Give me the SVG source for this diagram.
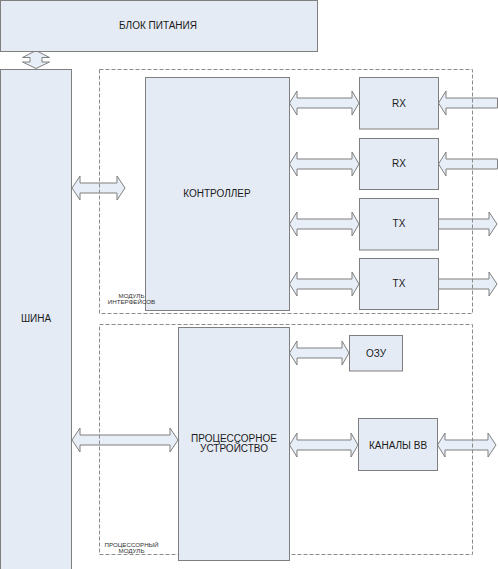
<svg xmlns="http://www.w3.org/2000/svg" width="498" height="569" viewBox="0 0 498 569">
<style>
.box{fill:#e5ebf5;stroke:#7f7f7f;stroke-width:1}
.mod{fill:none;stroke:#8c8c8c;stroke-width:1;stroke-dasharray:4,2}
.arr{fill:#e8eef7;stroke:#7f7f7f;stroke-width:1;stroke-linejoin:miter}
.t{font-family:"Liberation Sans",Arial,sans-serif;font-size:10px;fill:#1a1a1a;text-anchor:middle}
.s{font-family:"Liberation Sans",Arial,sans-serif;font-size:6.2px;fill:#333;text-anchor:middle}
</style>
<rect width="498" height="569" fill="#ffffff"/>
<g id="connectors">
<path class="arr" d="M22.5,57.5 L36,50.5 L49.5,57.5 L42,57.5 L42,62 L49.5,62 L36,68.5 L22.5,62 L30,62 L30,57.5 Z"/>
<path class="arr" d="M72,188 L80,176 L80,183 L117,183 L117,176 L125,188 L117,200 L117,193 L80,193 L80,200 Z"/>
<path class="arr" d="M289.5,103 L297,91 L297,98 L352,98 L352,91 L359,103 L352,115 L352,108 L297,108 L297,115 Z"/>
<path class="arr" d="M289.5,164 L297,152 L297,159 L352,159 L352,152 L359,164 L352,176 L352,169 L297,169 L297,176 Z"/>
<path class="arr" d="M289.5,224 L297,212 L297,219 L352,219 L352,212 L359,224 L352,236 L352,229 L297,229 L297,236 Z"/>
<path class="arr" d="M289.5,284 L297,272 L297,279 L352,279 L352,272 L359,284 L352,296 L352,289 L297,289 L297,296 Z"/>
<path class="arr" d="M438.5,103 L446,91 L446,98 L497.5,98 L497.5,108 L446,108 L446,115 Z"/>
<path class="arr" d="M438.5,164 L446,152 L446,159 L497.5,159 L497.5,169 L446,169 L446,176 Z"/>
<path class="arr" d="M438.5,219 L489,219 L489,212 L497,224 L489,236 L489,229 L438.5,229 Z"/>
<path class="arr" d="M438.5,279 L489,279 L489,272 L497,284 L489,296 L489,289 L438.5,289 Z"/>
<path class="arr" d="M289.5,353 L297,341 L297,348 L342,348 L342,341 L349,353 L342,365 L342,358 L297,358 L297,365 Z"/>
<path class="arr" d="M72,440 L80,428 L80,435 L170,435 L170,428 L178,440 L170,452 L170,445 L80,445 L80,452 Z"/>
<path class="arr" d="M289.5,445 L297,433 L297,440 L351,440 L351,433 L358,445 L351,457 L351,450 L297,450 L297,457 Z"/>
<path class="arr" d="M437.5,445 L445,433 L445,440 L488,440 L488,433 L496,445 L488,457 L488,450 L445,450 L445,457 Z"/>
</g>
<g id="module-interfaces">
<rect class="mod" x="99.5" y="69.5" width="373" height="244"/>
</g>
<g id="module-processor">
<rect class="mod" x="99.5" y="324.5" width="373" height="230"/>
</g>
<g id="power">
<rect class="box" x="0.5" y="0.5" width="317" height="51"/>
<text class="t" x="158" y="29">БЛОК ПИТАНИЯ</text>
</g>
<g id="bus">
<rect class="box" x="0.5" y="69.5" width="71" height="500"/>
<text class="t" x="36" y="321.5">ШИНА</text>
</g>
<g id="controller">
<rect class="box" x="145.5" y="77.5" width="144" height="233"/>
<text class="t" x="217" y="197">КОНТРОЛЛЕР</text>
</g>
<g id="rx1">
<rect class="box" x="359.5" y="77.5" width="79" height="51.5"/>
<text class="t" x="399" y="106.5">RX</text>
</g>
<g id="rx2">
<rect class="box" x="359.5" y="138.5" width="79" height="51"/>
<text class="t" x="399" y="166.5">RX</text>
</g>
<g id="tx1">
<rect class="box" x="359.5" y="198.5" width="79" height="51.5"/>
<text class="t" x="399" y="226.5">TX</text>
</g>
<g id="tx2">
<rect class="box" x="359.5" y="258.5" width="79" height="51"/>
<text class="t" x="399" y="286.5">TX</text>
</g>
<g id="processor">
<rect class="box" x="178.5" y="327.5" width="111" height="233"/>
<text class="t" x="234" y="441.5">ПРОЦЕССОРНОЕ</text>
<text class="t" x="234" y="451.5">УСТРОЙСТВО</text>
</g>
<g id="ram">
<rect class="box" x="349.5" y="335.5" width="53" height="35.5"/>
<text class="t" x="376" y="356.5">ОЗУ</text>
</g>
<g id="io-channels">
<rect class="box" x="358.5" y="418.5" width="79" height="52"/>
<text class="t" x="398" y="448.5">КАНАЛЫ ВВ</text>
</g>
<g id="module-interfaces-label">
<text class="s" x="131.5" y="297.5">МОДУЛЬ</text>
<text class="s" x="131.5" y="303.5">ИНТЕРФЕЙСОВ</text>
</g>
<g id="module-processor-label">
<text class="s" x="131.5" y="546.5">ПРОЦЕССОРНЫЙ</text>
<text class="s" x="131.5" y="552.5">МОДУЛЬ</text>
</g>
</svg>
